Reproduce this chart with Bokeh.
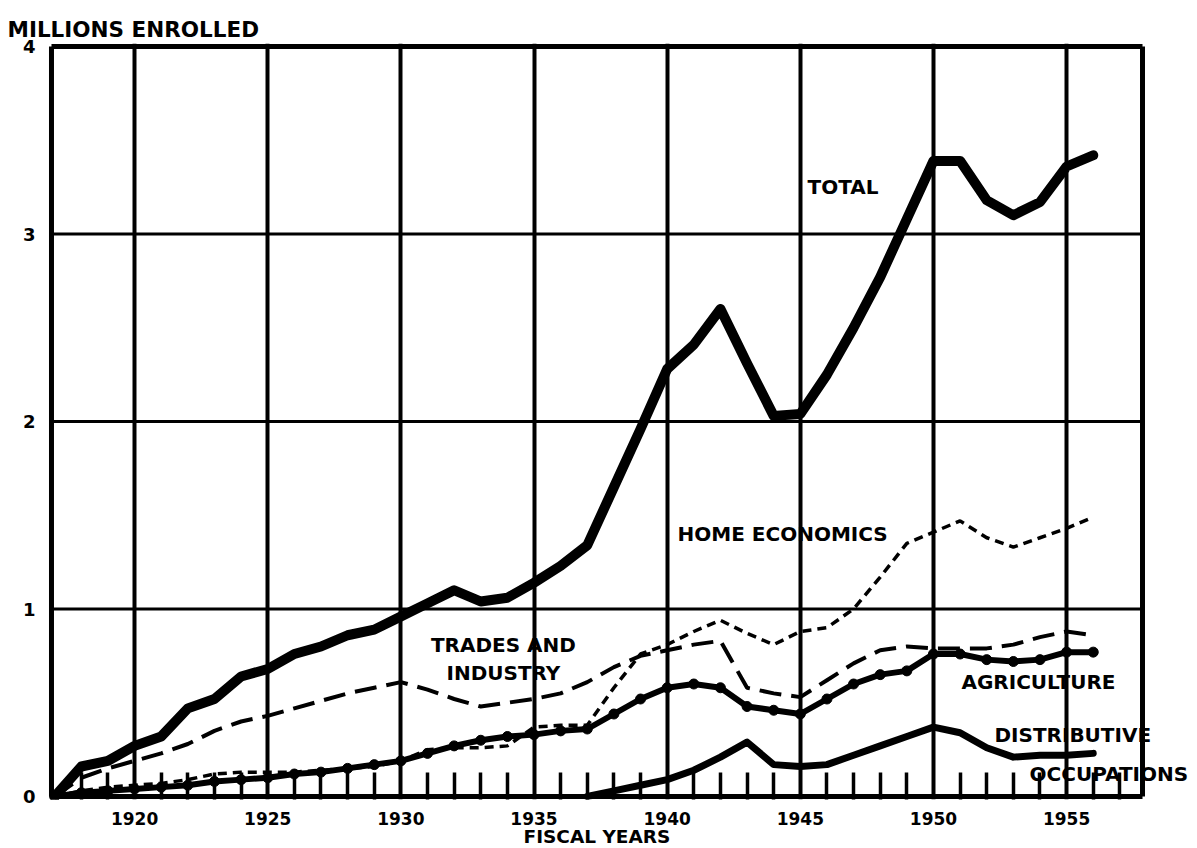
from bokeh.plotting import figure
from bokeh.models import Range1d, FixedTicker, Label, Title
from bokeh.embed import file_html
from bokeh.resources import INLINE

# ---------------- data (millions enrolled, fiscal years) ----------------
years = list(range(1917, 1957))
total = [0.00, 0.16, 0.19, 0.27, 0.32, 0.47, 0.52, 0.64, 0.68, 0.76,
         0.80, 0.86, 0.89, 0.96, 1.03, 1.10, 1.04, 1.06, 1.14, 1.23,
         1.34, 1.65, 1.96, 2.28, 2.41, 2.60, 2.31, 2.03, 2.04, 2.25,
         2.50, 2.77, 3.08, 3.39, 3.39, 3.18, 3.10, 3.17, 3.36, 3.42]
trades = [0.00, 0.10, 0.15, 0.19, 0.23, 0.28, 0.35, 0.40, 0.43, 0.47,
          0.51, 0.55, 0.58, 0.61, 0.57, 0.52, 0.48, 0.50, 0.52, 0.55,
          0.61, 0.69, 0.75, 0.78, 0.81, 0.83, 0.58, 0.55, 0.53, 0.62,
          0.71, 0.78, 0.80, 0.79, 0.79, 0.79, 0.81, 0.85, 0.88, 0.86]
home_econ = [0.00, 0.03, 0.05, 0.06, 0.07, 0.09, 0.12, 0.13, 0.13, 0.13,
             0.14, 0.15, 0.16, 0.19, 0.25, 0.26, 0.26, 0.27, 0.37, 0.38,
             0.38, 0.58, 0.76, 0.81, 0.88, 0.94, 0.87, 0.81, 0.88, 0.90,
             1.00, 1.17, 1.35, 1.41, 1.47, 1.38, 1.33, 1.38, 1.43, 1.49]
agriculture = [0.00, 0.02, 0.03, 0.04, 0.05, 0.06, 0.08, 0.09, 0.10, 0.12,
               0.13, 0.15, 0.17, 0.19, 0.23, 0.27, 0.30, 0.32, 0.33, 0.35,
               0.36, 0.44, 0.52, 0.58, 0.60, 0.58, 0.48, 0.46, 0.44, 0.52,
               0.60, 0.65, 0.67, 0.76, 0.76, 0.73, 0.72, 0.73, 0.77, 0.77]
dist_years = list(range(1937, 1957))
distributive = [0.00, 0.03, 0.06, 0.09, 0.14, 0.21, 0.29, 0.17, 0.16, 0.17,
                0.22, 0.27, 0.32, 0.37, 0.34, 0.26, 0.21, 0.22, 0.22, 0.23]

x_major = [1920, 1925, 1930, 1935, 1940, 1945, 1950, 1955]
x_minor = [y for y in range(1918, 1958) if y not in x_major]
y_major = [0, 1, 2, 3, 4]
y_grid = [1, 2, 3]

# chart box (left/right edge years, bottom/top values)
X0, X1 = 1916.88, 1957.85
Y0, Y1 = 0, 4

FONT = "DejaVu Sans"

p = figure(width=1195, height=847, output_backend="svg", toolbar_location=None,
           x_range=Range1d(1916.655, 1959.84), y_range=Range1d(-0.016, 4.016),
           min_border_left=45, min_border_right=0, min_border_top=43,
           min_border_bottom=48)
p.background_fill_color = "white"
p.border_fill_color = "white"
p.outline_line_color = None

# title ("MILLIONS ENROLLED") at top-left
p.title.text = "MILLIONS ENROLLED"
p.title.align = "left"
p.title.offset = -38
p.title.standoff = 4
p.title.text_font = FONT
p.title.text_font_style = "bold"
p.title.text_font_size = "21.5px"
p.title.text_color = "black"

# grid
p.xgrid.ticker = FixedTicker(ticks=x_major)
p.xgrid.grid_line_color = "black"
p.xgrid.grid_line_width = 4
p.ygrid.grid_line_color = None
p.segment(x0=[X0] * len(y_grid), y0=y_grid, x1=[X1] * len(y_grid), y1=y_grid,
          line_color="black", line_width=3)
# box
p.segment(x0=[X0, X0, X0, X1], y0=[Y0, Y1, Y0, Y0],
          x1=[X1, X1, X0, X1], y1=[Y0, Y1, Y1, Y1],
          line_color="black", line_width=5)

# x axis
xa = p.xaxis[0]
xa.ticker = FixedTicker(ticks=x_major, minor_ticks=x_minor)
xa.axis_line_color = None
xa.major_tick_in = 0
xa.major_tick_out = 0
xa.minor_tick_in = 27
xa.minor_tick_out = 0
xa.minor_tick_line_width = 3.5
xa.minor_tick_line_color = "black"
xa.major_label_text_font = FONT
xa.major_label_text_font_style = "bold"
xa.major_label_text_font_size = "17px"
xa.major_label_text_color = "black"
xa.major_label_standoff = 12

p.add_layout(Title(text="FISCAL YEARS", align="left", offset=478,
                   standoff=-8, text_font=FONT, text_font_style="bold",
                   text_font_size="18.5px", text_color="black"), "below")

# y axis
ya = p.yaxis[0]
ya.ticker = FixedTicker(ticks=y_major)
ya.axis_line_color = None
ya.major_tick_in = 0
ya.major_tick_out = 0
ya.minor_tick_in = 0
ya.minor_tick_out = 0
ya.major_label_text_font = FONT
ya.major_label_text_font_style = "bold"
ya.major_label_text_font_size = "18px"
ya.major_label_text_color = "black"
ya.major_label_standoff = 10

# series
p.line(years, home_econ, line_color="black", line_width=3.5, line_dash="9 6")
p.line(years, trades, line_color="black", line_width=4, line_dash="22 10")
p.line(years, agriculture, line_color="black", line_width=6, line_join="round")
p.scatter(years, agriculture, size=10, color="black")
p.line(dist_years, distributive, line_color="black", line_width=7,
       line_join="round", line_cap="round")
p.line(years, total, line_color="black", line_width=10,
       line_join="round", line_cap="round")


def lab(x, y, text, size="20px", align="left"):
    p.add_layout(Label(x=x, y=y, text=text, text_font=FONT,
                       text_font_style="bold", text_font_size=size,
                       text_color="black", text_align=align,
                       text_baseline="middle"))


lab(1945.27, 3.25, "TOTAL")
lab(1940.39, 1.40, "HOME ECONOMICS")
lab(1933.85, 0.81, "TRADES AND", align="center")
lab(1933.85, 0.66, "INDUSTRY", align="center")
lab(1951.05, 0.61, "AGRICULTURE")
lab(1952.29, 0.33, "DISTRIBUTIVE")
lab(1953.61, 0.12, "OCCUPATIONS")

open("out.html", "w").write(file_html(p, INLINE))
